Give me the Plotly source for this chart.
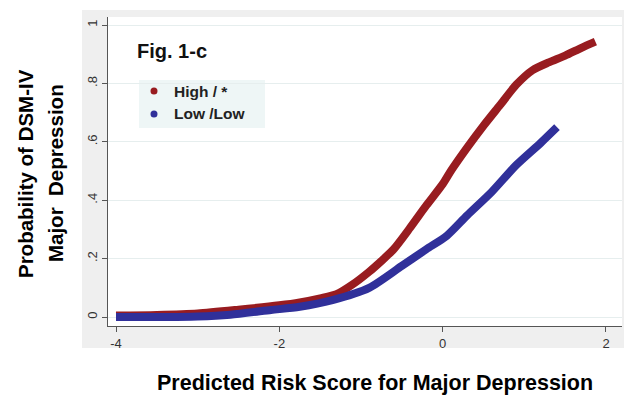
import plotly.graph_objects as go

# Predicted probability curves by predicted risk score
high_x = [-4.0, -3.5, -3.0, -2.5, -2.0, -1.75, -1.5, -1.3, -1.1, -0.9, -0.75, -0.6,
          -0.4, -0.2, 0.0, 0.1, 0.3, 0.5, 0.7, 0.9, 1.1, 1.3, 1.5, 1.7, 1.87]
high_y = [0.005, 0.007, 0.012, 0.025, 0.040, 0.050, 0.064, 0.078, 0.112, 0.155, 0.192, 0.232,
          0.305, 0.382, 0.455, 0.500, 0.580, 0.655, 0.725, 0.795, 0.845, 0.872, 0.895, 0.922, 0.943]

low_x = [-4.0, -3.5, -3.0, -2.6, -2.1, -1.75, -1.35, -0.9, -0.5, -0.2, 0.05, 0.3, 0.6, 0.9, 1.2, 1.4]
low_y = [0.0, 0.0, 0.002, 0.008, 0.024, 0.035, 0.058, 0.100, 0.175, 0.232, 0.278, 0.348,
         0.428, 0.520, 0.596, 0.650]

series_names = ["High / *", "Low /Low"]
series_colors = ["#981c20", "#30309a"]

x_ticks = [-4, -2, 0, 2]
x_tick_text = ["-4", "-2", "0", "2"]
y_ticks = [0, 0.2, 0.4, 0.6, 0.8, 1]
y_tick_text = ["0", ".2", ".4", ".6", ".8", "1"]

fig = go.Figure()
for xs, ys, name, color in [(high_x, high_y, series_names[0], series_colors[0]),
                            (low_x, low_y, series_names[1], series_colors[1])]:
    fig.add_trace(go.Scatter(
        x=xs, y=ys, name=name, mode="lines",
        line=dict(color=color, width=8, shape="spline", smoothing=0.7),
        showlegend=False,
    ))

text_font = "Liberation Sans, Arial, sans-serif"

shapes = [
    # grey frame around the plot region
    dict(type="rect", xref="paper", yref="paper", x0=-0.0506, x1=1.0039, y0=-0.0712, y1=1.0227,
         fillcolor="#efefef", line=dict(width=0), layer="below"),
    dict(type="rect", xref="paper", yref="paper", x0=0, x1=1, y0=0, y1=1,
         fillcolor="white", line=dict(width=0), layer="below"),
    # key box
    dict(type="rect", xref="paper", yref="paper", x0=0.0603, x1=0.3054, y0=0.6408, y1=0.7961,
         fillcolor="#eef6f6", line=dict(width=0), layer="below"),
]
annotations = [
    dict(text="<b>Fig. 1-c</b>", xref="paper", yref="paper", x=0.0525, y=0.89,
         xanchor="left", yanchor="middle", showarrow=False,
         font=dict(family=text_font, size=20, color="#111")),
    dict(text="<b>Predicted Risk Score for Major Depression</b>", xref="paper", yref="paper",
         x=0.5195, y=-0.1845, xanchor="center", yanchor="middle", showarrow=False,
         font=dict(family=text_font, size=21.5, color="#000")),
    dict(text="<b>Probability of DSM-IV</b>", xref="paper", yref="paper",
         x=-0.1615, y=0.495, xanchor="center", yanchor="middle", showarrow=False, textangle=-90,
         font=dict(family=text_font, size=20.5, color="#000")),
    dict(text="<b>Major  Depression</b>", xref="paper", yref="paper",
         x=-0.1031, y=0.495, xanchor="center", yanchor="middle", showarrow=False, textangle=-90,
         font=dict(family=text_font, size=20.5, color="#000")),
]
key_rows = [0.7605, 0.6861]
for name, color, yk in zip(series_names, series_colors, key_rows):
    shapes.append(dict(type="circle", xref="paper", yref="paper",
                       xsizemode="pixel", ysizemode="pixel",
                       xanchor=0.0895, yanchor=yk, x0=-3.5, x1=3.5, y0=-3.5, y1=3.5,
                       fillcolor=color, line=dict(width=0)))
    annotations.append(dict(text=f"<b>{name}</b>", xref="paper", yref="paper",
                            x=0.1245, y=yk, xanchor="left", yanchor="middle", showarrow=False,
                            font=dict(family=text_font, size=15.5, color="#222")))

fig.update_layout(
    width=624, height=397,
    margin=dict(l=108, r=2, t=17, b=71),
    paper_bgcolor="white", plot_bgcolor="white",
    shapes=shapes, annotations=annotations,
    xaxis=dict(range=[-4.098, 2.196], tickvals=x_ticks, ticktext=x_tick_text,
               showgrid=False, zeroline=False, showline=True, linecolor="#555", linewidth=1,
               ticks="outside", ticklen=5, tickcolor="#555",
               tickfont=dict(family=text_font, size=13, color="#333")),
    yaxis=dict(range=[-0.0308, 1.0274], tickvals=y_ticks, ticktext=y_tick_text, tickangle=-90,
               showgrid=True, gridcolor="#e6eeee", gridwidth=1, zeroline=False,
               showline=True, linecolor="#555", linewidth=1,
               ticks="outside", ticklen=5, tickcolor="#555",
               tickfont=dict(family=text_font, size=13, color="#333")),
)

fig.write_html("out.html")
